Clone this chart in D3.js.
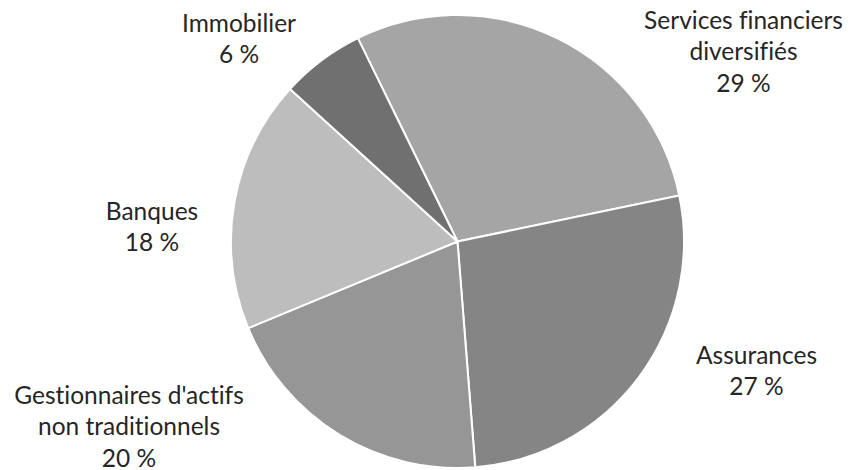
<!DOCTYPE html>
<html>
<head>
<meta charset="utf-8">
<script src="https://cdn.jsdelivr.net/npm/d3@7"></script>
<style>
  html, body { margin: 0; padding: 0; background: #fff; }
  svg { display: block; }
  text { font-variant-ligatures: none; font-feature-settings: "liga" 0; }
</style>
</head>
<body>
<svg id="chart" width="851" height="470"></svg>
<script>
// ---- data ----
const categories = ["Services financiers diversifiés", "Assurances", "Gestionnaires d'actifs non traditionnels", "Banques", "Immobilier"];
const labelLines = [["Services financiers", "diversifiés"], ["Assurances"], ["Gestionnaires d'actifs", "non traditionnels"], ["Banques"], ["Immobilier"]];
const values = [29, 27, 20, 18, 6];
const colors = ["#a5a5a5", "#858585", "#969696", "#bdbdbd", "#707070"];

// ---- layout ----
const cx = 457.5, cy = 241.5, radius = 226.5;
const startDeg = -26.1;
// label anchors (center x, first baseline y)
const labelAnchors = [[743.5, 28.5], [756.5, 363.5], [129, 403.5], [152, 219.5], [239, 31.5]];
const lineHeight = 31.5;

const svg = d3.select("#chart");
const g = svg.append("g").attr("transform", `translate(${cx},${cy})`);

const pie = d3.pie().sort(null).value(d => d)
  .startAngle(startDeg * Math.PI / 180)
  .endAngle(startDeg * Math.PI / 180 + 2 * Math.PI);
const arc = d3.arc().innerRadius(0).outerRadius(radius);
const color = d3.scaleOrdinal().domain(categories).range(colors);

const arcs = pie(values);
g.selectAll("path.slice").data(arcs).enter().append("path")
  .attr("class", "slice")
  .attr("d", arc)
  .attr("fill", (d, i) => color(categories[i]))
  .attr("stroke", "#ffffff")
  .attr("stroke-width", 2)
  .attr("stroke-linejoin", "round");

const labels = svg.append("g")
  .attr("font-family", "Lato, 'Open Sans', sans-serif")
  .attr("font-size", 24.5)
  .attr("fill", "#262626")
  .attr("text-anchor", "middle");

labels.selectAll("text").data(arcs).enter().append("text")
  .each(function(d, i) {
    const t = d3.select(this);
    const [x, y] = labelAnchors[i];
    const lines = labelLines[i].concat([d3.format("d")(values[i]) + " %"]);
    lines.forEach((ln, k) => {
      t.append("tspan").attr("x", x).attr("y", y + k * lineHeight).text(ln);
    });
  });
</script>
</body>
</html>
